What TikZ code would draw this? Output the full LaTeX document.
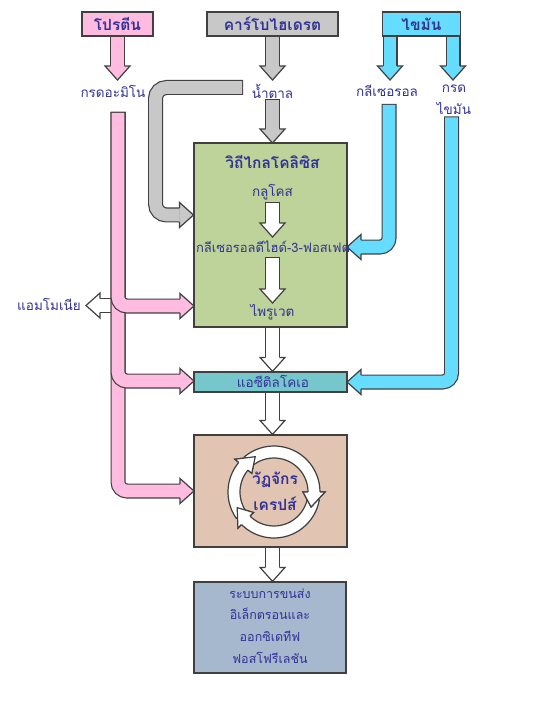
\documentclass[tikz,border=0pt]{standalone}
\usepackage{fontspec}
\newfontfamily\thaifont[Script=Thai]{Loma}
\usetikzlibrary{calc}
\definecolor{edgec}{RGB}{64,64,64}
\definecolor{txtc}{RGB}{50,50,150}
\definecolor{pinkc}{RGB}{255,187,224}
\definecolor{grayc}{RGB}{200,200,200}
\definecolor{cyanc}{RGB}{102,221,255}
\definecolor{greenc}{RGB}{189,211,154}
\definecolor{tealc}{RGB}{118,199,204}
\definecolor{krebsc}{RGB}{225,196,178}
\definecolor{etcc}{RGB}{165,184,205}
\newcommand\shaft[3][]{%
  \draw[line width=15pt,draw=edgec,shorten <=-1.2pt,#1] #3;
  \draw[line width=12.6pt,draw=#2,#1] #3;}
\begin{document}
\begin{tikzpicture}[x=1pt,y=-1pt,
  edge/.style={draw=edgec,line width=1.2pt},
  box/.style={edge,rectangle,inner sep=0pt},
  lbl/.style={text=txtc,inner sep=0pt,font=\thaifont\fontsize{13.5}{15}\selectfont},
  ttl/.style={text=txtc,inner sep=0pt,font=\thaifont\bfseries\fontsize{15.5}{17}\selectfont},
  pics/bhead/.style={code={
    \fill[#1] (-14,-7.5) -- (-14,-12.5) -- (0,0) -- (-14,12.5) -- (-14,7.5) -- cycle;
    \draw[edge] (-14,-6.9) -- (-14,-12.5) -- (0,0) -- (-14,12.5) -- (-14,6.9);
  }}]
\fill[white] (0,0) rectangle (539,703);
\useasboundingbox (0,0) rectangle (539,703);

% top boxes
\node[box,fill=pinkc,minimum width=71pt,minimum height=24pt,ttl] (prot) at (117.5,24) {โปรตีน};
\node[box,fill=grayc,minimum width=131pt,minimum height=24pt,ttl] (carb) at (272.5,24) {คาร์โบไฮเดรต};
\node[box,fill=cyanc,minimum width=78pt,minimum height=24pt,ttl] (fat) at (421.5,24) {ไขมัน};

% main boxes
\node[box,fill=greenc,minimum width=153pt,minimum height=184pt] (glyco) at (270.5,235) {};
\node[box,fill=tealc,minimum width=153pt,minimum height=20pt] (acet) at (270.5,382) {};
\node[box,fill=krebsc,minimum width=153pt,minimum height=112pt] (krebs) at (270.5,491) {};
\node[box,fill=etcc,minimum width=152pt,minimum height=91pt] (etc) at (270,627.5) {};

% tip coordinates
\coordinate (tProt) at (117.5,80);
\coordinate (tCarb) at (272.5,80);
\coordinate (tGly) at (390,80);
\coordinate (tFa) at (453,80);
\coordinate (sSug) at (272.5,100);
\coordinate (tSug) at (272.5,143);
\coordinate (tNH) at (86,305.5);
\coordinate (tP1) at (194,306);
\coordinate (tP2) at (194,381);
\coordinate (tP3) at (194,491);
\coordinate (tG) at (193.5,215);
\coordinate (tC1) at (347,247);
\coordinate (tC2) at (347,382);
\coordinate (sW1) at (272.5,203);
\coordinate (tW1) at (272.5,237);
\coordinate (sW2) at (272.5,258);
\coordinate (tW2) at (272.5,303);

% top arrows
\shaft{pinkc}{(prot.south) -- ($(tProt)+(0,-14)$)}
\pic[rotate=-90] at (tProt) {bhead=pinkc};
\shaft{grayc}{(carb.south) -- ($(tCarb)+(0,-14)$)}
\pic[rotate=-90] at (tCarb) {bhead=grayc};
\shaft{cyanc}{(fat.south west -| tGly) -- ($(tGly)+(0,-14)$)}
\pic[rotate=-90] at (tGly) {bhead=cyanc};
\shaft{cyanc}{(fat.south west -| tFa) -- ($(tFa)+(0,-14)$)}
\pic[rotate=-90] at (tFa) {bhead=cyanc};
\shaft{grayc}{(sSug) -- ($(tSug)+(0,-14)$)}
\pic[rotate=-90] at (tSug) {bhead=grayc};

% gray L arrow
\shaft[rounded corners=11pt]{grayc}{(242,87.5) -- (155.5,87.5) -- (155.5,215) -- ($(tG)+(-14,0)$)}
\pic at (tG) {bhead=grayc};

% cyan long arrows
\shaft[rounded corners=9pt]{cyanc}{(389,105) -- (389,247) -- ($(tC1)+(14,0)$)}
\pic[rotate=180] at (tC1) {bhead=cyanc};
\shaft[rounded corners=9pt]{cyanc}{(451.5,117.5) -- (451.5,382) -- ($(tC2)+(14,0)$)}
\pic[rotate=180] at (tC2) {bhead=cyanc};

% ammonia arrow
\shaft{white}{(118,305.5) -- ($(tNH)+(14,0)$)}
\pic[rotate=180] at (tNH) {bhead=white};

% pink L arrows
\shaft[rounded corners=9pt]{pinkc}{(118,113) -- (118,491) -- ($(tP3)+(-14,0)$)}
\pic at (tP3) {bhead=pinkc};
\shaft[rounded corners=9pt]{pinkc}{(118,113) -- (118,381) -- ($(tP2)+(-14,0)$)}
\pic at (tP2) {bhead=pinkc};
\shaft[rounded corners=9pt]{pinkc}{(118,113) -- (118,306) -- ($(tP1)+(-14,0)$)}
\pic at (tP1) {bhead=pinkc};

% white arrows in the main column
\shaft{white}{(sW1) -- ($(tW1)+(0,-14)$)}
\pic[rotate=-90] at (tW1) {bhead=white};
\shaft{white}{(sW2) -- ($(tW2)+(0,-14)$)}
\pic[rotate=-90] at (tW2) {bhead=white};
\shaft{white}{(glyco.south -| tW1) -- ($(acet.north -| tW1)+(0,-14)$)}
\pic[rotate=-90] at (acet.north -| tW1) {bhead=white};
\shaft{white}{(acet.south -| tW1) -- ($(krebs.north -| tW1)+(0,-14)$)}
\pic[rotate=-90] at (krebs.north -| tW1) {bhead=white};
\shaft{white}{(krebs.south -| tW1) -- ($(etc.north -| tW1)+(0,-14)$)}
\pic[rotate=-90] at (etc.north -| tW1) {bhead=white};

% Krebs cycle ring
\begin{scope}[shift={(274,492)},yscale=-1]
  \foreach \ta/\bb/\hh in {350/225/203, 215/140/118, 130/0/-22} {
    \filldraw[edge,fill=white] plot[domain=\ta:\bb,samples=25] (\x:46) -- (\bb:51) -- (\hh:40) -- (\bb:29) -- (\bb:34) -- plot[domain=\bb:\ta,samples=25] (\x:34) -- cycle;
  }
  \foreach \bb/\hh in {225/203, 140/118, 0/-22} {
    \fill[white] (\bb:51) -- (\hh:40) -- (\bb:29) -- cycle;
    \draw[edge] (\bb:46) -- (\bb:51) -- (\hh:40) -- (\bb:29) -- (\bb:34);
  }
\end{scope}

% labels
\node[lbl] (amino) at (113,91) {กรดอะมิโน};
\node[lbl] (sugar) at (272.5,91) {น้ำตาล};
\node[lbl] (glyc) at (387,91) {กลีเซอรอล};
\node[lbl] (fa1) at (454,88.5) {กรด};
\node[lbl] (fa2) at (454,108) {ไขมัน};
\node[lbl] (nh3) at (49,304) {แอมโมเนีย};

\node[ttl] (glyT) at (272.5,162) {วิถีไกลโคลิซิส};
\node[lbl] (glu) at (272.5,192) {กลูโคส};
\node[lbl,font=\thaifont\fontsize{13}{15}\selectfont] (g3p) at (273,246.5) {กลีเซอรอลดีไฮด์-3-ฟอสเฟต};
\node[lbl] (pyr) at (272.5,312) {ไพรูเวต};
\node[lbl] (acT) at (273,381.5) {แอซีติลโคเอ};
\node[ttl] (kr1) at (275,480) {วัฏจักร};
\node[ttl] (kr2) at (275,504) {เครปส์};
\node[lbl,align=center,font=\thaifont\fontsize{12.5}{21.7}\selectfont] (etcT) at (270,626) {ระบบการขนส่ง\\อิเล็กตรอนและ\\ออกซิเดทีฟ\\ฟอสโฟรีเลชัน};
\end{tikzpicture}
\end{document}
